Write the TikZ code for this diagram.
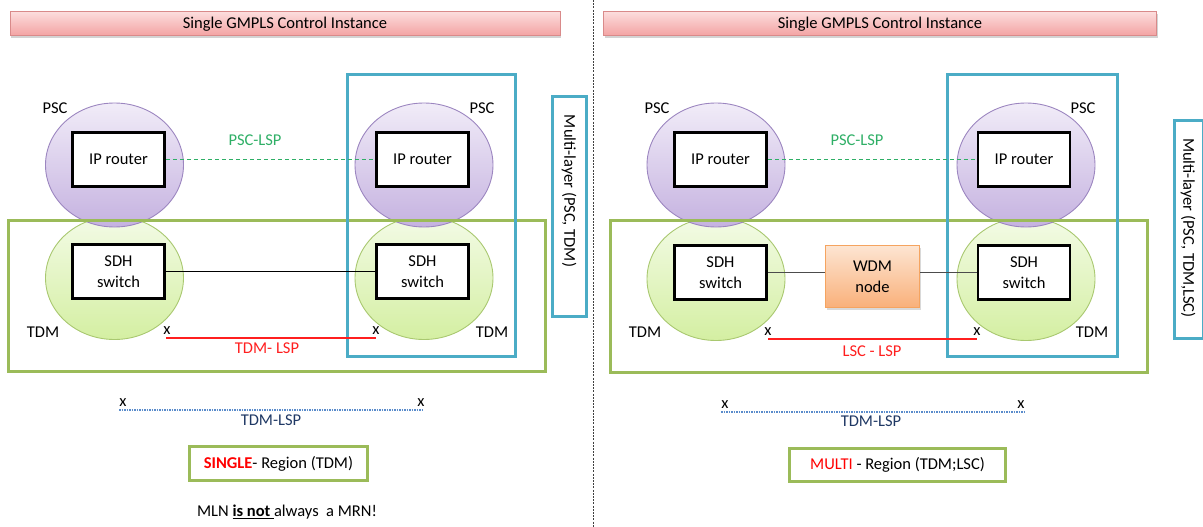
\documentclass[tikz,border=0pt]{standalone}
\usepackage{fontspec}
\setmainfont{Carlito}
\usetikzlibrary{shapes.geometric,shadows}

\definecolor{pscedge}{HTML}{9C86C0}
\definecolor{psctop}{HTML}{F1ECF8}
\definecolor{pscbot}{HTML}{C5B2E0}
\definecolor{tdmedge}{HTML}{A9C870}
\definecolor{tdmtop}{HTML}{F3FBE6}
\definecolor{tdmbot}{HTML}{D4EFA2}
\definecolor{regiongreen}{HTML}{9BBB59}
\definecolor{layerblue}{HTML}{4BACC6}
\definecolor{titletop}{HTML}{FCDCDC}
\definecolor{titlebot}{HTML}{F3A2A2}
\definecolor{titleedge}{HTML}{D98A8A}
\definecolor{wdmtop}{HTML}{FDE5D2}
\definecolor{wdmbot}{HTML}{F9B07A}
\definecolor{wdmedge}{HTML}{F5A460}
\definecolor{psclsp}{HTML}{2FAF66}
\definecolor{lspred}{HTML}{FF1F1F}
\definecolor{navytext}{HTML}{1F3864}
\definecolor{dotblue}{HTML}{5A8CCB}

\begin{document}
\begin{tikzpicture}[x=1pt,y=-1pt,
  font=\fontsize{16.5}{21}\selectfont,
  every node/.style={inner sep=0pt},
  title/.style={draw=titleedge, line width=1pt, top color=titletop, bottom color=titlebot,
    minimum height=24pt, drop shadow={shadow xshift=1pt, shadow yshift=-2.5pt, opacity=0.35}},
  psc/.style={ellipse, draw=pscedge, line width=0.9pt, top color=psctop, bottom color=pscbot,
    minimum width=138pt, minimum height=124pt},
  tdm/.style={ellipse, draw=tdmedge, line width=0.9pt, top color=tdmtop, bottom color=tdmbot,
    minimum width=138pt, minimum height=123pt},
  device/.style={draw=black, line width=2.8pt, fill=white, minimum width=92pt,
    minimum height=54pt, align=center},
  wdmbox/.style={draw=wdmedge, line width=1pt, top color=wdmtop, bottom color=wdmbot,
    minimum width=94pt, minimum height=62pt, align=center,
    drop shadow={shadow xshift=1.5pt, shadow yshift=-2.5pt, opacity=0.3}},
  region/.style={draw=regiongreen, line width=3pt},
  layer/.style={draw=layerblue, line width=3pt},
  legendbox/.style={draw=regiongreen, line width=3pt, fill=white},
  psclink/.style={draw=psclsp, line width=1.4pt, dash pattern=on 4pt off 3pt},
  redlsp/.style={draw=lspred, line width=1.3pt},
  dotlsp/.style={draw=dotblue, line width=1.3pt, dash pattern=on 1.5pt off 1pt},
  xmark/.style={font=\fontsize{16.5}{19}\selectfont}
]
\useasboundingbox (0,0) rectangle (1203,527);

% panel separator
\draw[black!75, line width=0.8pt, dash pattern=on 2pt off 1.2pt] (593,0) -- (593,527);

% ===================== left panel =====================
\node[title, minimum width=550pt] (titleL) at (285,24) {Single GMPLS Control Instance};

\node[tdm] (tdmAL) at (114.5,278) {};
\node[tdm] (tdmBL) at (424,278) {};
\node[psc] (pscAL) at (114.5,165) {};
\node[psc] (pscBL) at (424,165) {};

\node[device] (ipAL) at (118.5,159.5) {IP router};
\node[device] (ipBL) at (422.5,159.5) {IP router};
\node[device] (sdhAL) at (118.5,271.5) {SDH\\switch};
\node[device] (sdhBL) at (422.5,271.5) {SDH\\switch};

\draw[region] (8,220) rectangle (545,371);
\draw[layer] (347,75) rectangle (515,356);
\draw[layer] (552,97) rectangle (586,316);
\node[rotate=-90] (mlL) at (569,191) {Multi-layer (PSC, TDM)};

\node (pscLabAL) at (55,108) {PSC};
\node (pscLabBL) at (482,108) {PSC};
\node (tdmLabAL) at (43,332) {TDM};
\node (tdmLabBL) at (492,332) {TDM};

\draw[psclink] (ipAL.east) -- (ipBL.west);
\node[text=psclsp] (psclspL) at (255,140) {PSC-LSP};
\draw[black, line width=1pt] (sdhAL.east) -- (sdhBL.west);

\node[xmark] (xAL) at (167,331) {x};
\node[xmark] (xBL) at (376,331) {x};
\coordinate (rAL) at (166,338);
\coordinate (rBL) at (376,338);
\draw[redlsp] (rAL) -- (rBL);
\node[text=lspred] (tdmlspL) at (267,348) {TDM- LSP};

\node[xmark] (xCL) at (123,403) {x};
\node[xmark] (xDL) at (421,403) {x};
\coordinate (dAL) at (119,410);
\coordinate (dBL) at (423,410);
\draw[dotlsp] (dAL) -- (dBL);
\node[text=navytext] (tdmlsp2L) at (271,420) {TDM-LSP};

\node[legendbox, minimum width=178pt, minimum height=34pt] (singleL) at (278.5,463.5)
  {\textcolor{red}{\textbf{SINGLE}}- Region (TDM)};
\node (noteL) at (287,512) {MLN \textbf{\underline{is not }}always\ \ a MRN!};

% ===================== right panel =====================
\node[title, minimum width=553pt] (titleR) at (880,24) {Single GMPLS Control Instance};

\node[tdm] (tdmAR) at (716,279) {};
\node[tdm] (tdmBR) at (1026,279) {};
\node[psc] (pscAR) at (716,165) {};
\node[psc] (pscBR) at (1026,165) {};

\node[device] (ipAR) at (720.5,159.5) {IP router};
\node[device] (ipBR) at (1024,159.5) {IP router};
\node[device] (sdhAR) at (720.5,272.5) {SDH\\switch};
\node[device] (sdhBR) at (1024,272.5) {SDH\\switch};
\node[wdmbox] (wdm) at (872.5,276.5) {WDM\\node};

\draw[region] (610,220) rectangle (1147,372);
\draw[layer] (947,75) rectangle (1117,356);
\draw[layer] (1174,120) rectangle (1203,338);
\node[rotate=-90] (mlR) at (1188,228) {Multi-layer (PSC, TDM,LSC)};

\node (pscLabAR) at (657,108) {PSC};
\node (pscLabBR) at (1083,108) {PSC};
\node (tdmLabAR) at (645,332) {TDM};
\node (tdmLabBR) at (1092,332) {TDM};

\draw[psclink] (ipAR.east) -- (ipBR.west);
\node[text=psclsp] (psclspR) at (857,140) {PSC-LSP};
\draw[black!70, line width=1.2pt] (sdhAR.east) -- (sdhAR.east -| wdm.west);
\draw[black!70, line width=1.2pt] (wdm.east |- sdhBR.west) -- (sdhBR.west);

\node[xmark] (xAR) at (768,332) {x};
\node[xmark] (xBR) at (977,332) {x};
\coordinate (rAR) at (768,339);
\coordinate (rBR) at (977,339);
\draw[redlsp] (rAR) -- (rBR);
\node[text=lspred] (lsclspR) at (872,351) {LSC - LSP};

\node[xmark] (xCR) at (725,405) {x};
\node[xmark] (xDR) at (1021,405) {x};
\coordinate (dAR) at (721,412);
\coordinate (dBR) at (1024,412);
\draw[dotlsp] (dAR) -- (dBR);
\node[text=navytext] (tdmlsp2R) at (871,421) {TDM-LSP};

\node[legendbox, minimum width=216pt, minimum height=33pt] (multiR) at (897.5,465)
  {\textcolor{red}{MULTI} - Region (TDM;LSC)};
\end{tikzpicture}
\end{document}
